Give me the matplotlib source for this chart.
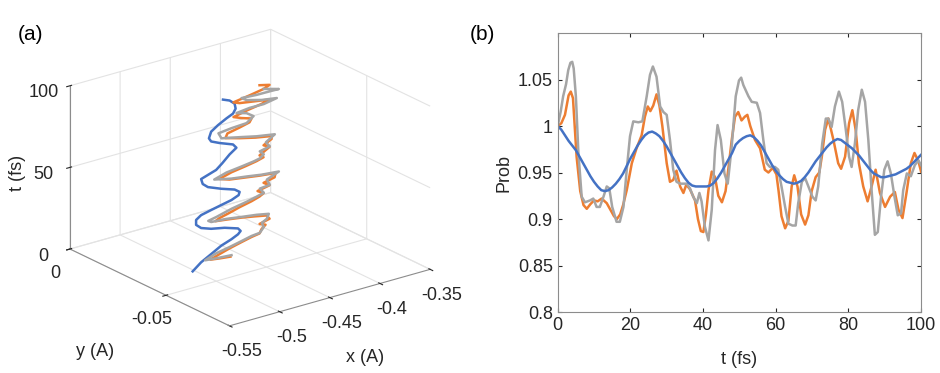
import numpy as np
import matplotlib.pyplot as plt
from matplotlib.ticker import FuncFormatter

plt.rcParams['font.family'] = ['Liberation Sans', 'DejaVu Sans']
plt.rcParams['axes.unicode_minus'] = False
plt.rcParams['grid.color'] = '#e3e3e3'
plt.rcParams['grid.linewidth'] = 0.8

BLUE = '#4472C4'
ORANGE = '#ED7D31'
GRAY = '#A5A5A5'

# ---- panel (b): probability vs time ----
t_blue = list(range(0, 101))
p_blue = [1.000, 0.996, 0.990, 0.984, 0.979, 0.974, 0.967, 0.960, 0.953, 0.946,
          0.940, 0.935, 0.931, 0.930, 0.931, 0.934, 0.938, 0.943, 0.949, 0.957,
          0.965, 0.972, 0.979, 0.985, 0.990, 0.993, 0.994, 0.992, 0.989, 0.984,
          0.978, 0.971, 0.964, 0.957, 0.950, 0.944, 0.939, 0.936, 0.935, 0.935,
          0.935, 0.935, 0.936, 0.939, 0.944, 0.950, 0.957, 0.964, 0.971, 0.980,
          0.984, 0.987, 0.989, 0.990, 0.988, 0.984, 0.979, 0.972, 0.965, 0.958,
          0.952, 0.947, 0.943, 0.940, 0.939, 0.938, 0.939, 0.941, 0.945, 0.950,
          0.956, 0.962, 0.967, 0.972, 0.977, 0.981, 0.984, 0.986, 0.985, 0.982,
          0.979, 0.976, 0.972, 0.968, 0.963, 0.958, 0.953, 0.949, 0.947, 0.945,
          0.945, 0.946, 0.947, 0.948, 0.950, 0.952, 0.954, 0.957, 0.961, 0.965,
          0.969]

t_orange = [0, 1, 2, 3, 3.6, 4.2, 5.2, 6.2, 7.1, 8.0, 9.0, 10.0, 11.0, 12.1, 13.5,
            14.5, 15.5, 16.3, 17.2, 18.0, 19.0, 20.4, 21.7, 23.1, 24.0, 24.8, 25.5,
            26.3, 27.2, 28.0, 28.8, 30.0, 30.9, 31.8, 32.7, 33.7, 34.6, 35.4, 36.4,
            37.8, 38.6, 39.4, 40.1, 40.8, 41.5, 42.4, 43.3, 44.2, 45.2, 46.2, 47.0,
            47.9, 48.8, 49.7, 50.6, 51.5, 52.2, 53.0, 54.3, 55.7, 57.0, 58.0, 59.2,
            60.2, 60.8, 61.6, 62.6, 63.5, 64.4, 65.1, 66.0, 67.0, 68.1, 69.0, 69.9,
            71.0, 72.0, 72.7, 73.6, 74.5, 75.9, 77.2, 78.0, 79.1, 80.2, 81.1, 82.0,
            82.9, 84.1, 85.3, 86.4, 87.5, 88.7, 90.1, 91.5, 92.8, 93.8, 94.9, 96.0,
            97.2, 98.2, 99.3, 100]
p_orange = [1.000, 1.003, 1.012, 1.033, 1.037, 1.030, 0.967, 0.930, 0.915, 0.911,
            0.916, 0.920, 0.919, 0.922, 0.917, 0.910, 0.903, 0.900, 0.905, 0.915,
            0.931, 0.960, 0.976, 0.990, 1.010, 1.021, 1.016, 1.022, 1.034, 1.022,
            1.000, 0.960, 0.940, 0.942, 0.952, 0.935, 0.928, 0.937, 0.932, 0.920,
            0.900, 0.887, 0.886, 0.905, 0.931, 0.951, 0.945, 0.925, 0.918, 0.930,
            0.955, 0.985, 1.010, 1.015, 1.006, 1.010, 1.012, 1.000, 0.985, 0.976,
            0.953, 0.950, 0.955, 0.948, 0.930, 0.903, 0.890, 0.898, 0.935, 0.947,
            0.935, 0.905, 0.894, 0.904, 0.930, 0.945, 0.950, 0.967, 0.996, 1.008,
            0.985, 0.960, 0.954, 0.967, 1.003, 1.017, 0.996, 0.960, 0.935, 0.919,
            0.935, 0.953, 0.928, 0.913, 0.924, 0.929, 0.910, 0.901, 0.928, 0.960,
            0.971, 0.962, 0.951]

t_gray = [0, 0.8, 1.5, 2.3, 2.9, 3.5, 4.0, 4.4, 5.0, 5.7, 6.6, 7.5, 8.9, 9.8, 10.7,
          11.6, 12.6, 13.5, 14.2, 15.0, 16.2, 17.1, 18.1, 19.0, 19.9, 20.8, 22.2,
          23.3, 24.5, 25.4, 26.2, 27.2, 28.2, 29.1, 30.0, 30.9, 31.8, 32.7, 33.7,
          34.6, 35.5, 36.4, 37.3, 38.3, 39.0, 39.6, 40.5, 41.5, 42.4, 43.3, 44.0,
          44.9, 45.9, 46.8, 47.9, 49.0, 49.9, 50.5, 51.1, 52.5, 53.4, 54.8, 55.7,
          56.6, 57.5, 58.4, 59.8, 60.7, 61.6, 62.6, 63.5, 64.6, 65.5, 66.2, 67.2,
          68.1, 69.0, 70.1, 71.0, 71.7, 72.8, 73.8, 74.5, 75.4, 76.3, 77.4, 78.3,
          79.3, 80.2, 80.9, 81.8, 82.7, 83.7, 84.6, 85.5, 86.4, 87.3, 88.1, 89.0,
          89.9, 90.8, 91.7, 92.7, 93.6, 94.5, 95.1, 96.1, 97.2, 98.3, 99.3, 100]
p_gray = [1.000, 1.015, 1.032, 1.045, 1.060, 1.068, 1.069, 1.062, 1.032, 0.971,
          0.924, 0.918, 0.920, 0.922, 0.913, 0.913, 0.924, 0.935, 0.933, 0.913,
          0.897, 0.897, 0.913, 0.953, 0.989, 1.005, 1.004, 1.005, 1.032, 1.055,
          1.064, 1.053, 1.021, 1.015, 1.012, 0.985, 0.953, 0.940, 0.938, 0.938,
          0.938, 0.933, 0.924, 0.917, 0.928, 0.919, 0.892, 0.877, 0.910, 0.974,
          1.001, 0.985, 0.949, 0.938, 0.978, 1.032, 1.049, 1.052, 1.044, 1.032,
          1.026, 1.025, 1.014, 0.985, 0.960, 0.956, 0.956, 0.953, 0.935, 0.913,
          0.895, 0.893, 0.893, 0.917, 0.940, 0.944, 0.935, 0.924, 0.920, 0.935,
          0.981, 1.008, 1.008, 0.999, 1.021, 1.037, 1.026, 0.996, 0.967, 0.956,
          0.981, 1.017, 1.039, 1.026, 0.985, 0.931, 0.883, 0.886, 0.924, 0.953,
          0.962, 0.949, 0.924, 0.904, 0.906, 0.931, 0.949, 0.946, 0.958, 0.963,
          0.958]

# ---- panel (a): trajectories (x, y, t) ----
ta_blue = [0, 4.1, 7.4, 10.8, 13.0, 14.9, 16.5, 18.5, 21.2, 22.9, 25.1, 27.9, 30.9,
           33.0, 34.4, 35.7, 37.0, 38.8, 40.6, 42.9, 45.7, 49.0, 51.8, 55.1, 58.1,
           61.1, 65.3, 68.2, 70.8, 74.0, 76.4, 78.7, 82.4, 85.2, 87.9, 89.7, 92.3,
           95.5, 98.3, 100]
xa_blue = [-0.5020, -0.4936, -0.4836, -0.4736, -0.4634, -0.4568, -0.4542, -0.4568,
           -0.4702, -0.4836, -0.4936, -0.4986, -0.4986, -0.4936, -0.4836, -0.4736,
           -0.4634, -0.4562, -0.4552, -0.4602, -0.4736, -0.4868, -0.4920, -0.4936,
           -0.4786, -0.4726, -0.4652, -0.4584, -0.4618, -0.4752, -0.4836, -0.4858,
           -0.4836, -0.4768, -0.4684, -0.4618, -0.4592, -0.4602, -0.4652, -0.4718]
ya_blue = -0.0388

ta_gray = [0, 0.7, 1.4, 3.8, 5.3, 6.9, 8.3, 8.8, 11.7, 14.5, 16.2, 18.9, 20.4, 21.7,
           23.1, 23.8, 25.0, 26.0, 28.4, 30.1, 31.5, 32.7, 35.9, 36.5, 40.2, 43.1,
           44.1, 45.6, 46.9, 49.3, 51.5, 52.6, 53.6, 54.4, 56.2, 58.7, 60.1, 63.2,
           66.6, 68.5, 70.9, 73.3, 76.9, 77.8, 78.3, 81.4, 84.4, 86.2, 87.1, 88.0,
           89.0, 90.5, 92.5, 94.6, 95.5, 97.0, 98.5, 100]
xa_gray = [-0.4564, -0.4716, -0.4826, -0.4716, -0.4584, -0.4464, -0.4364, -0.4282,
           -0.4242, -0.4262, -0.4212, -0.4192, -0.4314, -0.4464, -0.4614, -0.4766,
           -0.4796, -0.4716, -0.4564, -0.4414, -0.4314, -0.4242, -0.4282, -0.4182,
           -0.4212, -0.4092, -0.4262, -0.4414, -0.4564, -0.4736, -0.4614, -0.4464,
           -0.4344, -0.4282, -0.4242, -0.4282, -0.4182, -0.4222, -0.4132, -0.4314,
           -0.4484, -0.4664, -0.4694, -0.4564, -0.4414, -0.4344, -0.4414, -0.4514,
           -0.4384, -0.4264, -0.4124, -0.4276, -0.4416, -0.4466, -0.4350, -0.4234,
           -0.4196, -0.4322]
ya_gray = [-0.0352] * 49 + [-0.0363, -0.0358, -0.0359, -0.0353, -0.0353,
                            -0.0370, -0.0388, -0.0406, -0.0393]

ta_orange = [0, 0.8, 1.6, 3.6, 5.2, 7.0, 8.4, 9.2, 11.5, 13.5, 15.0, 16.5, 19.0, 20.5,
             22.0, 23.3, 24.3, 25.5, 27.0, 28.7, 30.3, 31.8, 33.2, 35.5, 37.0, 39.5,
             41.0, 43.5, 44.6, 46.0, 47.4, 49.5, 51.5, 52.8, 54.0, 55.2, 57.0, 58.8,
             60.5, 62.5, 65.0, 66.8, 68.6, 71.0, 73.5, 76.0, 77.5, 79.0, 81.0, 83.0,
             85.0, 86.8, 88.2, 89.5, 91.0, 92.5, 94.0, 95.5, 97.0, 98.5, 100]
xa_orange = [-0.4590, -0.4700, -0.4790, -0.4690, -0.4600, -0.4480, -0.4380, -0.4300,
             -0.4280, -0.4240, -0.4300, -0.4200, -0.4230, -0.4350, -0.4480, -0.4620,
             -0.4740, -0.4700, -0.4600, -0.4500, -0.4380, -0.4300, -0.4260, -0.4320,
             -0.4200, -0.4260, -0.4150, -0.4140, -0.4300, -0.4450, -0.4600, -0.4700,
             -0.4580, -0.4440, -0.4330, -0.4260, -0.4300, -0.4250, -0.4200, -0.4260,
             -0.4180, -0.4180, -0.4340, -0.4500, -0.4640, -0.4620, -0.4500, -0.4400,
             -0.4380, -0.4480, -0.4560, -0.4420, -0.4280, -0.4200, -0.4350, -0.4500,
             -0.4560, -0.4400, -0.4260, -0.4200, -0.4300]
ya_orange = -0.0360

fmt = FuncFormatter(lambda v, pos: '%g' % round(v, 4))

fig = plt.figure(figsize=(9.4, 3.73), dpi=100)

# ---- (a) 3D ----
ax = fig.add_axes([0.0, -0.0512, 0.52, 1.12], projection='3d')
ax.set_proj_type('ortho')
ax.view_init(elev=21.6, azim=-127.4)
ax.set_box_aspect((1, 1.04, 0.695), zoom=0.94)

ax.plot(xa_blue, np.full(len(xa_blue), ya_blue), ta_blue, color=BLUE, lw=1.8)
ax.plot(xa_orange, np.full(len(xa_orange), ya_orange), ta_orange, color=ORANGE, lw=1.8)
ax.plot(xa_gray, ya_gray, ta_gray, color=GRAY, lw=1.8)

ax.set_xlim(-0.55, -0.35)
ax.set_ylim(-0.083, 0)
ax.set_zlim(0, 100)
ax.set_xticks([-0.55, -0.5, -0.45, -0.4, -0.35])
ax.set_yticks([-0.05, 0])
ax.set_zticks([0, 50, 100])
for a in (ax.xaxis, ax.yaxis, ax.zaxis):
    a.set_major_formatter(fmt)
    a.set_pane_color((1, 1, 1, 0))
    a.line.set_color('#8c8c8c')
    a.line.set_linewidth(0.8)
ax.tick_params(labelsize=13, colors='#262626')

# axis titles of the 3D panel, kept horizontal like the original
fig.text(17 / 940, 1 - 173 / 373, 't (fs)', fontsize=13, rotation=90,
         ha='center', va='center', color='#262626')
fig.text(95 / 940, 1 - 352 / 373, 'y (A)', fontsize=13,
         ha='center', va='center', color='#262626')
fig.text(365 / 940, 1 - 357 / 373, 'x (A)', fontsize=13,
         ha='center', va='center', color='#262626')

# ---- (b) Prob ----
ax2 = fig.add_axes([0.5933, 0.1635, 0.3865, 0.748])
ax2.plot(t_orange, p_orange, color=ORANGE, lw=1.8)
ax2.plot(t_gray, p_gray, color=GRAY, lw=1.8)
ax2.plot(t_blue, p_blue, color=BLUE, lw=1.8)
ax2.set_xlim(0, 100)
ax2.set_ylim(0.8, 1.1)
ax2.set_xticks(range(0, 101, 20))
ax2.set_yticks([0.8, 0.85, 0.9, 0.95, 1.0, 1.05])
ax2.xaxis.set_major_formatter(fmt)
ax2.yaxis.set_major_formatter(fmt)
ax2.tick_params(direction='in', top=True, right=True, labelsize=13,
                colors='#262626', length=3)
for s in ax2.spines.values():
    s.set_color('#8c8c8c')
    s.set_linewidth(0.8)
ax2.set_xlabel('t (fs)', fontsize=13, labelpad=12, color='#262626')
ax2.set_ylabel('Prob', fontsize=13, labelpad=4, color='#262626')

fig.text(18 / 940, 1 - 40 / 373, '(a)', fontsize=15)
fig.text(470 / 940, 1 - 40 / 373, '(b)', fontsize=15)

fig.savefig('out.png', dpi=100)
